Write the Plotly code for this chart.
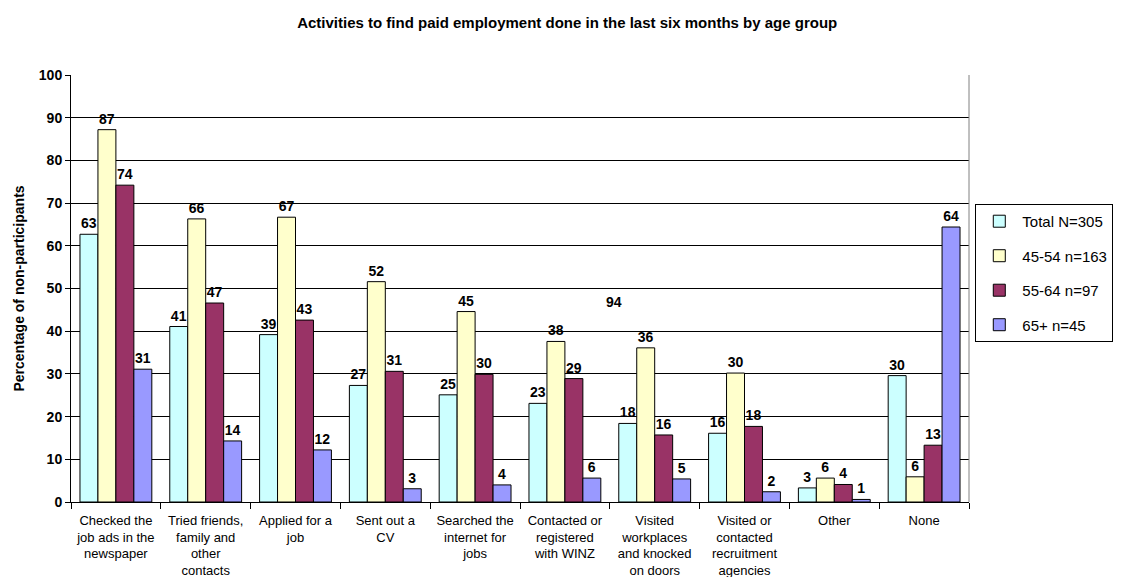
import plotly.graph_objects as go

categories = [
    "Checked the<br>job ads in the<br>newspaper",
    "Tried friends,<br>family and<br>other<br>contacts",
    "Applied for a<br>job",
    "Sent out a<br>CV",
    "Searched the<br>internet for<br>jobs",
    "Contacted or<br>registered<br>with WINZ",
    "Visited<br>workplaces<br>and knocked<br>on doors",
    "Visited or<br>contacted<br>recruitment<br>agencies",
    "Other",
    "None",
]
series_names = ["Total N=305", "45-54 n=163", "55-64 n=97", "65+ n=45"]
total = [62.7, 41.1, 39.2, 27.3, 25.1, 23.1, 18.4, 16.1, 3.3, 29.6]
age_45_54 = [87.2, 66.3, 66.7, 51.6, 44.6, 37.6, 36.1, 30.2, 5.6, 5.9]
age_55_64 = [74.2, 46.6, 42.6, 30.6, 29.9, 28.9, 15.7, 17.7, 4.1, 13.3]
age_65p = [31.1, 14.3, 12.2, 3.1, 4.0, 5.6, 5.4, 2.4, 0.6, 64.4]
colors = ["#CCFFFF", "#FFFFCC", "#993366", "#9999FF"]
stray_label = "94"

FONT = "Arial, Liberation Sans, sans-serif"
fig = go.Figure()
for name, vals, col in zip(series_names, [total, age_45_54, age_55_64, age_65p], colors):
    fig.add_trace(go.Bar(
        x=categories, y=vals, name=name,
        marker=dict(color=col, line=dict(color="black", width=1)),
        text=[f"{v:.0f}" for v in vals], textposition="outside",
        textfont=dict(family=FONT, size=14, color="black", weight="bold"),
        cliponaxis=False, legendgroup=name,
    ))

fig.add_annotation(text=stray_label, xref="paper", yref="y", x=0.605, y=46.8,
                   showarrow=False, font=dict(family=FONT, size=14, color="black", weight="bold"))

fig.update_layout(
    width=1121, height=577,
    margin=dict(l=71, r=152, t=75, b=75, autoexpand=False),
    paper_bgcolor="white", plot_bgcolor="white",
    barmode="group", bargap=0.2, bargroupgap=0,
    title=dict(text="Activities to find paid employment done in the last six months by age group",
               x=0.506, xref="container", xanchor="center", y=0.96, yref="container", yanchor="middle",
               font=dict(family=FONT, size=15, color="black", weight="bold")),
    font=dict(family=FONT, color="black"),
    legend=dict(x=1.007, y=0.698, xanchor="left", yanchor="top",
                bordercolor="black", borderwidth=1,
                font=dict(family=FONT, size=15, color="black"),
                traceorder="grouped", tracegroupgap=12,
                itemwidth=36),
    yaxis=dict(range=[0, 100], dtick=10, showgrid=True, gridcolor="black", gridwidth=1,
               showline=True, linecolor="black", ticks="outside", ticklen=5, tickcolor="black",
               tickfont=dict(family=FONT, size=14, color="black", weight="bold"),
               title=dict(text="Percentage of non-participants",
                          font=dict(family=FONT, size=14, color="black", weight="bold"),
                          standoff=10),
               zeroline=False, automargin=False),
    xaxis=dict(showline=True, linecolor="black", ticks="outside", tickcolor="black", ticklen=6,
               tickson="boundaries", tickangle=0, automargin=False, ticklabelstandoff=6,
               tickfont=dict(family=FONT, size=13, color="black")),
    shapes=[dict(type="line", xref="paper", yref="paper", x0=1, x1=1, y0=0, y1=1,
                 line=dict(color="#808080", width=1))],
)

fig.write_html("out.html")
